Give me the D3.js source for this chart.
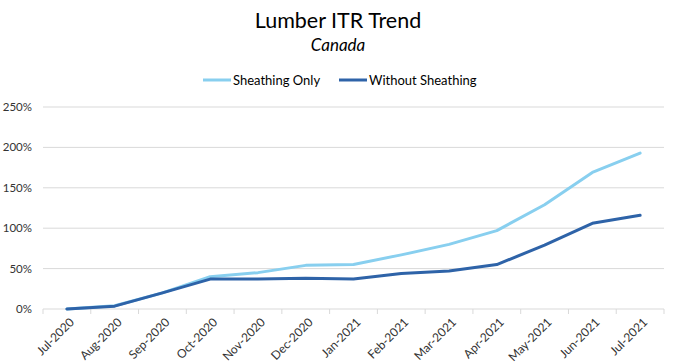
<!DOCTYPE html>
<html>
<head>
<meta charset="utf-8">
<script src="https://cdn.jsdelivr.net/npm/d3@7"></script>
<style>
  body { margin: 0; background: #fff; }
  svg { font-family: Lato, "Open Sans", sans-serif; }
</style>
</head>
<body>
<svg id="chart" width="674" height="362"></svg>
<script>
const months = ["Jul-2020", "Aug-2020", "Sep-2020", "Oct-2020", "Nov-2020", "Dec-2020", "Jan-2021",
    "Feb-2021", "Mar-2021", "Apr-2021", "May-2021", "Jun-2021", "Jul-2021"];
const sheathingOnly = [0, 4, 20, 40, 45, 54, 55, 67, 80, 97, 129, 169, 193];
const withoutSheathing = [0, 3.5, 20, 37, 37, 38, 37, 44, 47, 55, 79, 106, 116];
const yTicks = [0, 50, 100, 150, 200, 250];

const series = [
    { name: "Sheathing Only", values: sheathingOnly, color: "#88cfef" },
    { name: "Without Sheathing", values: withoutSheathing, color: "#2e63a8" }
];

const margin = { top: 107, right: 10, bottom: 53, left: 43 };
const width = 674 - margin.left - margin.right,
      height = 362 - margin.top - margin.bottom;

const svg = d3.select("#chart");

const x = d3.scaleBand().domain(months).range([0, width]);
const y = d3.scaleLinear().domain([0, 250]).range([height, 0]);

const chart = svg.append("g")
    .attr("transform", `translate(${margin.left},${margin.top})`);

// gridlines
chart.append("g")
    .selectAll("line")
    .data(yTicks.slice(1))
    .join("line")
    .attr("x1", 0)
    .attr("x2", width)
    .attr("y1", d => y(d))
    .attr("y2", d => y(d))
    .attr("stroke", "#d9d9d9")
    .attr("stroke-width", 1);

// y axis labels
chart.append("g")
    .selectAll("text")
    .data(yTicks)
    .join("text")
    .attr("x", -11)
    .attr("y", d => y(d))
    .attr("dy", "0.35em")
    .attr("text-anchor", "end")
    .attr("font-size", "11.5px")
    .attr("fill", "#333")
    .text(d => d + "%");

// x axis
const xAxis = chart.append("g")
    .attr("transform", `translate(0,${height})`);
xAxis.append("line")
    .attr("x1", 0).attr("x2", width)
    .attr("stroke", "#d9d9d9");
xAxis.selectAll("line.tick")
    .data(months.concat([null]))
    .join("line")
    .attr("class", "tick")
    .attr("x1", (d, i) => i * x.bandwidth())
    .attr("x2", (d, i) => i * x.bandwidth())
    .attr("y1", 0).attr("y2", 5)
    .attr("stroke", "#d9d9d9");
xAxis.selectAll("text")
    .data(months)
    .join("text")
    .attr("transform", d => `translate(${x(d) + x.bandwidth() / 2 + 5},${11}) rotate(-45)`)
    .attr("text-anchor", "end")
    .attr("dy", "0.35em")
    .attr("font-size", "12px")
    .attr("fill", "#333")
    .text(d => d);

// lines
const line = d3.line()
    .x((d, i) => x(months[i]) + x.bandwidth() / 2)
    .y(d => y(d));

chart.append("g")
    .selectAll("path")
    .data(series)
    .join("path")
    .attr("d", d => line(d.values))
    .attr("fill", "none")
    .attr("stroke", d => d.color)
    .attr("stroke-width", 3)
    .attr("stroke-linejoin", "round")
    .attr("stroke-linecap", "round");

// titles
svg.append("text")
    .attr("x", 338).attr("y", 28)
    .attr("text-anchor", "middle")
    .attr("font-size", "21.5px")
    .attr("fill", "#000")
    .text("Lumber ITR Trend");
svg.append("text")
    .attr("x", 338).attr("y", 51)
    .attr("text-anchor", "middle")
    .attr("font-size", "17px")
    .attr("font-style", "italic")
    .attr("fill", "#000")
    .text("Canada");

// legend
const legendX = [203, 339];
const legend = svg.append("g")
    .selectAll("g")
    .data(series)
    .join("g")
    .attr("transform", (d, i) => `translate(${legendX[i]},80)`);
legend.append("line")
    .attr("x1", 0).attr("x2", 28)
    .attr("stroke", d => d.color)
    .attr("stroke-width", 3);
legend.append("text")
    .attr("x", 30)
    .attr("dy", "0.35em")
    .attr("font-size", "13px")
    .attr("fill", "#000")
    .text(d => d.name);
</script>
</body>
</html>
